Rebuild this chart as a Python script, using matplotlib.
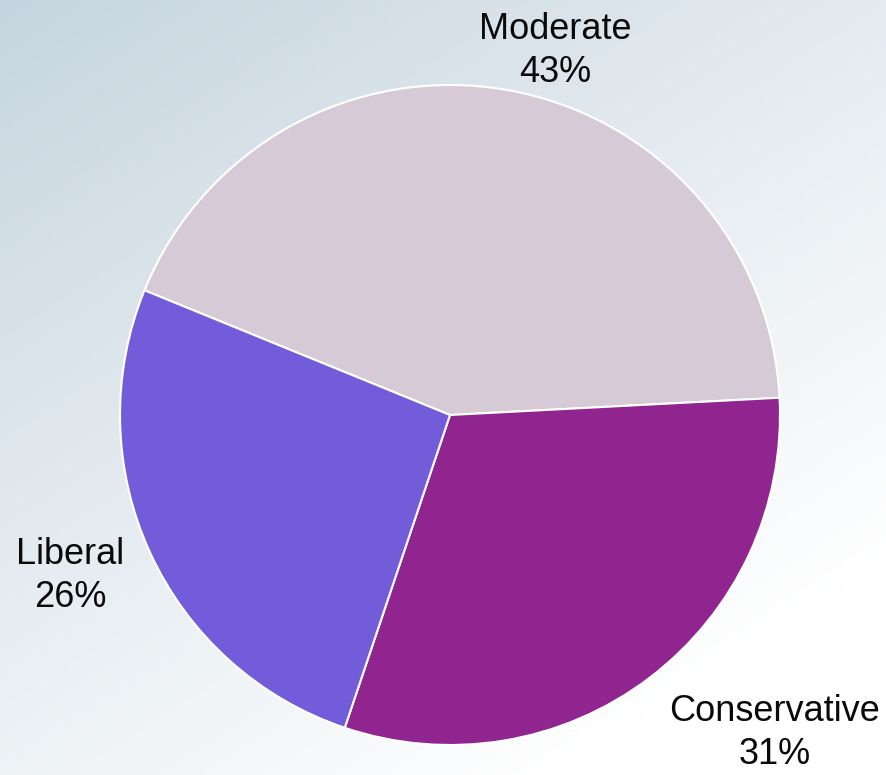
import numpy as np
import matplotlib.pyplot as plt
from matplotlib.colors import LinearSegmentedColormap

plt.rcParams['font.family'] = ['Liberation Sans', 'DejaVu Sans']

labels = ["Moderate", "Conservative", "Liberal"]
shares = [43, 31, 26]
colors = ["#d6cad6", "#90258f", "#735cd9"]

W, H = 887, 775
fig = plt.figure(figsize=(W / 100, H / 100), dpi=100)

# diagonal background gradient (blue-grey top left -> white bottom right)
bg = fig.add_axes([0, 0, 1, 1])
yy, xx = np.mgrid[0:1:200j, 0:1:200j]
grad = np.clip((xx * 0.55 + yy * 0.75) / 1.1, 0, 1)
cmap = LinearSegmentedColormap.from_list("bg", ["#c6d5df", "#e4ebf0", "#ffffff"])
bg.imshow(grad, cmap=cmap, aspect="auto", extent=[0, 1, 0, 1], origin="upper")
bg.axis("off")

# pie: centre (450, 415) px, radius 330 px
r = 330
ax = fig.add_axes([(450 - r) / W, (H - 415 - r) / H, 2 * r / W, 2 * r / H])
wedges, texts = ax.pie(shares, colors=colors, startangle=157.8, counterclock=False,
                       labels=[f"{l}\n{s}%" for l, s in zip(labels, shares)],
                       wedgeprops=dict(edgecolor="white", linewidth=1.5),
                       textprops=dict(fontsize=26, color="#0a0a0a", ha="center",
                                      va="center", linespacing=1.3))
ax.set_xlim(-1, 1)
ax.set_ylim(-1, 1)
ax.set_aspect("equal")

# label positions (pixels), moved into data coords of the pie axes
label_px = [(555, 51), (775, 733), (70, 576)]
for t, (px, py) in zip(texts, label_px):
    t.set_position(((px - 450) / r, (415 - py) / r))
    t.set_ha("center")
    t.set_clip_on(False)

fig.savefig("out.png", dpi=100)
